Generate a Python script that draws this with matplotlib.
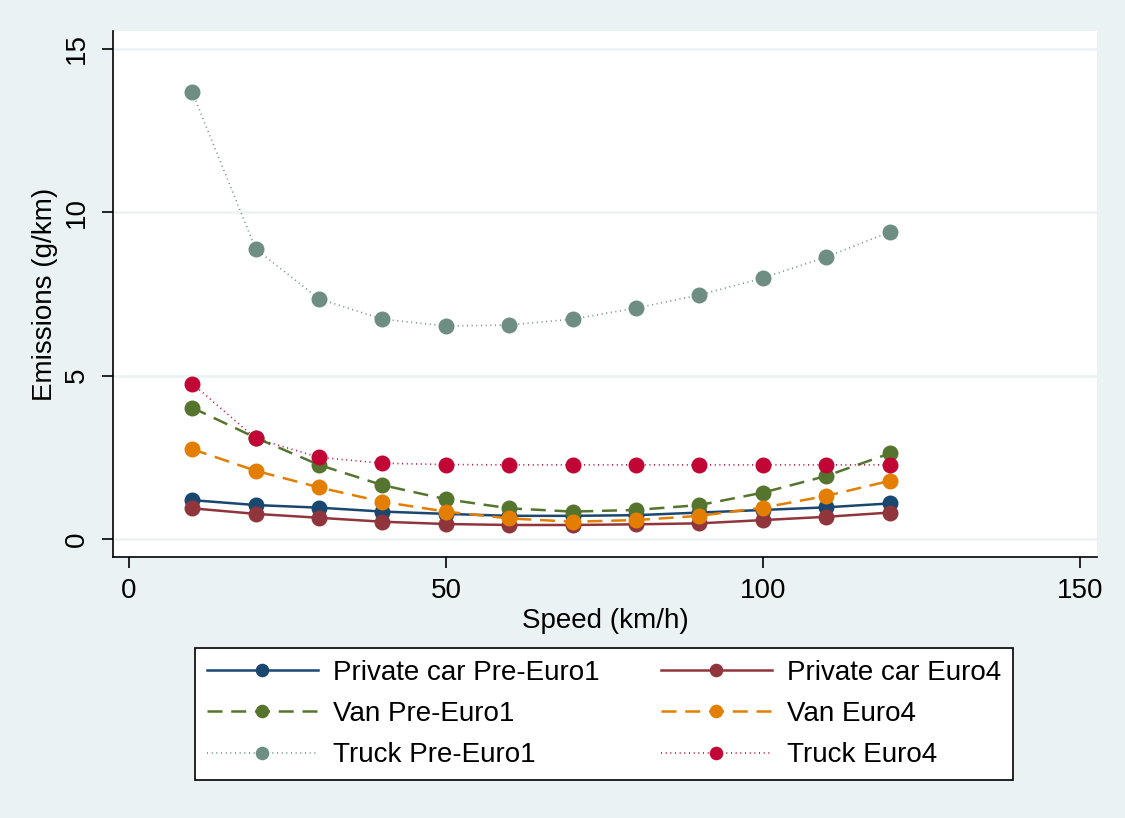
import matplotlib
matplotlib.use("Agg")
import matplotlib.pyplot as plt

plt.rcParams['font.family'] = ['Liberation Sans', 'DejaVu Sans']

speed = [10, 20, 30, 40, 50, 60, 70, 80, 90, 100, 110, 120]
car_pre = [1.19, 1.04, 0.96, 0.84, 0.77, 0.71, 0.71, 0.73, 0.81, 0.89, 0.97, 1.09]
car_e4 = [0.94, 0.77, 0.65, 0.53, 0.46, 0.43, 0.43, 0.45, 0.48, 0.58, 0.68, 0.81]
van_pre = [4.02, 3.10, 2.27, 1.65, 1.22, 0.94, 0.84, 0.89, 1.04, 1.42, 1.93, 2.62]
van_e4 = [2.75, 2.09, 1.58, 1.14, 0.84, 0.63, 0.53, 0.58, 0.71, 0.96, 1.32, 1.78]
truck_pre = [13.68, 8.88, 7.35, 6.73, 6.52, 6.55, 6.73, 7.07, 7.47, 7.99, 8.63, 9.40]
truck_e4 = [4.76, 3.08, 2.50, 2.32, 2.28, 2.27, 2.27, 2.27, 2.27, 2.27, 2.27, 2.27]

labels = ["Private car Pre-Euro1", "Private car Euro4", "Van Pre-Euro1",
          "Van Euro4", "Truck Pre-Euro1", "Truck Euro4"]
xticks = [0, 50, 100, 150]
yticks = [0, 5, 10, 15]

bg = '#EAF2F3'
fig = plt.figure(figsize=(11.25, 8.18), dpi=100, facecolor=bg)
ax = fig.add_axes([113/1125, 1-557/818, (1097-113)/1125, (557-31)/818])
ax.set_facecolor('white')

series = [
    (car_pre, '#1A476F', '-', 1.8),
    (car_e4, '#90353B', '-', 1.8),
    (van_pre, '#55752F', (0, (6, 3.5)), 1.8),
    (van_e4, '#E37E00', (0, (6, 3.5)), 1.8),
    (truck_pre, '#6E8E84', (0, (0.6, 2.2)), 1.2),
    (truck_e4, '#C10534', (0, (0.6, 2.2)), 1.2),
]
handles = []
for (vals, col, ls, lw), lab in zip(series, labels):
    h, = ax.plot(speed, vals, color=col, linestyle=ls, linewidth=lw,
                 marker='o', markersize=11.5, markeredgewidth=0, label=lab)
    handles.append(h)

ax.set_xlim(-2.5, 152.7)
ax.set_ylim(-0.55, 15.55)
ax.set_xticks(xticks)
ax.set_yticks(yticks)
ax.grid(axis='y', color=bg, linewidth=1.8)
ax.set_axisbelow(True)
for s in ['top', 'right']:
    ax.spines[s].set_visible(False)
for s in ['left', 'bottom']:
    ax.spines[s].set_color('black')
    ax.spines[s].set_linewidth(1.2)
ax.tick_params(axis='both', direction='out', length=8, width=1.2, labelsize=20)
ax.tick_params(axis='x', pad=7)
ax.tick_params(axis='y', pad=9)
for t in ax.get_yticklabels():
    t.set_rotation(90)
    t.set_va('center')
ax.set_xlabel('Speed (km/h)', fontsize=20, labelpad=3)
ax.set_ylabel('Emissions (g/km)', fontsize=20, labelpad=4)

# matplotlib fills legend columns first; reorder so rows read like the reference
order = [0, 2, 4, 1, 3, 5]
leg = fig.legend([handles[i] for i in order], [labels[i] for i in order],
                 loc='lower left',
                 bbox_to_anchor=(195/1125, 1-780/818, (1013-195)/1125, (780-645)/818),
                 mode='expand', ncol=2, fontsize=20, frameon=True, fancybox=False,
                 edgecolor='black', facecolor='white', framealpha=1,
                 handlelength=4.0, markerscale=0.85, labelspacing=0.55,
                 borderpad=0.42, borderaxespad=0, handletextpad=0.55, columnspacing=1.8)
leg.get_frame().set_linewidth(1.2)

fig.savefig('out.png', dpi=100, facecolor=bg)
